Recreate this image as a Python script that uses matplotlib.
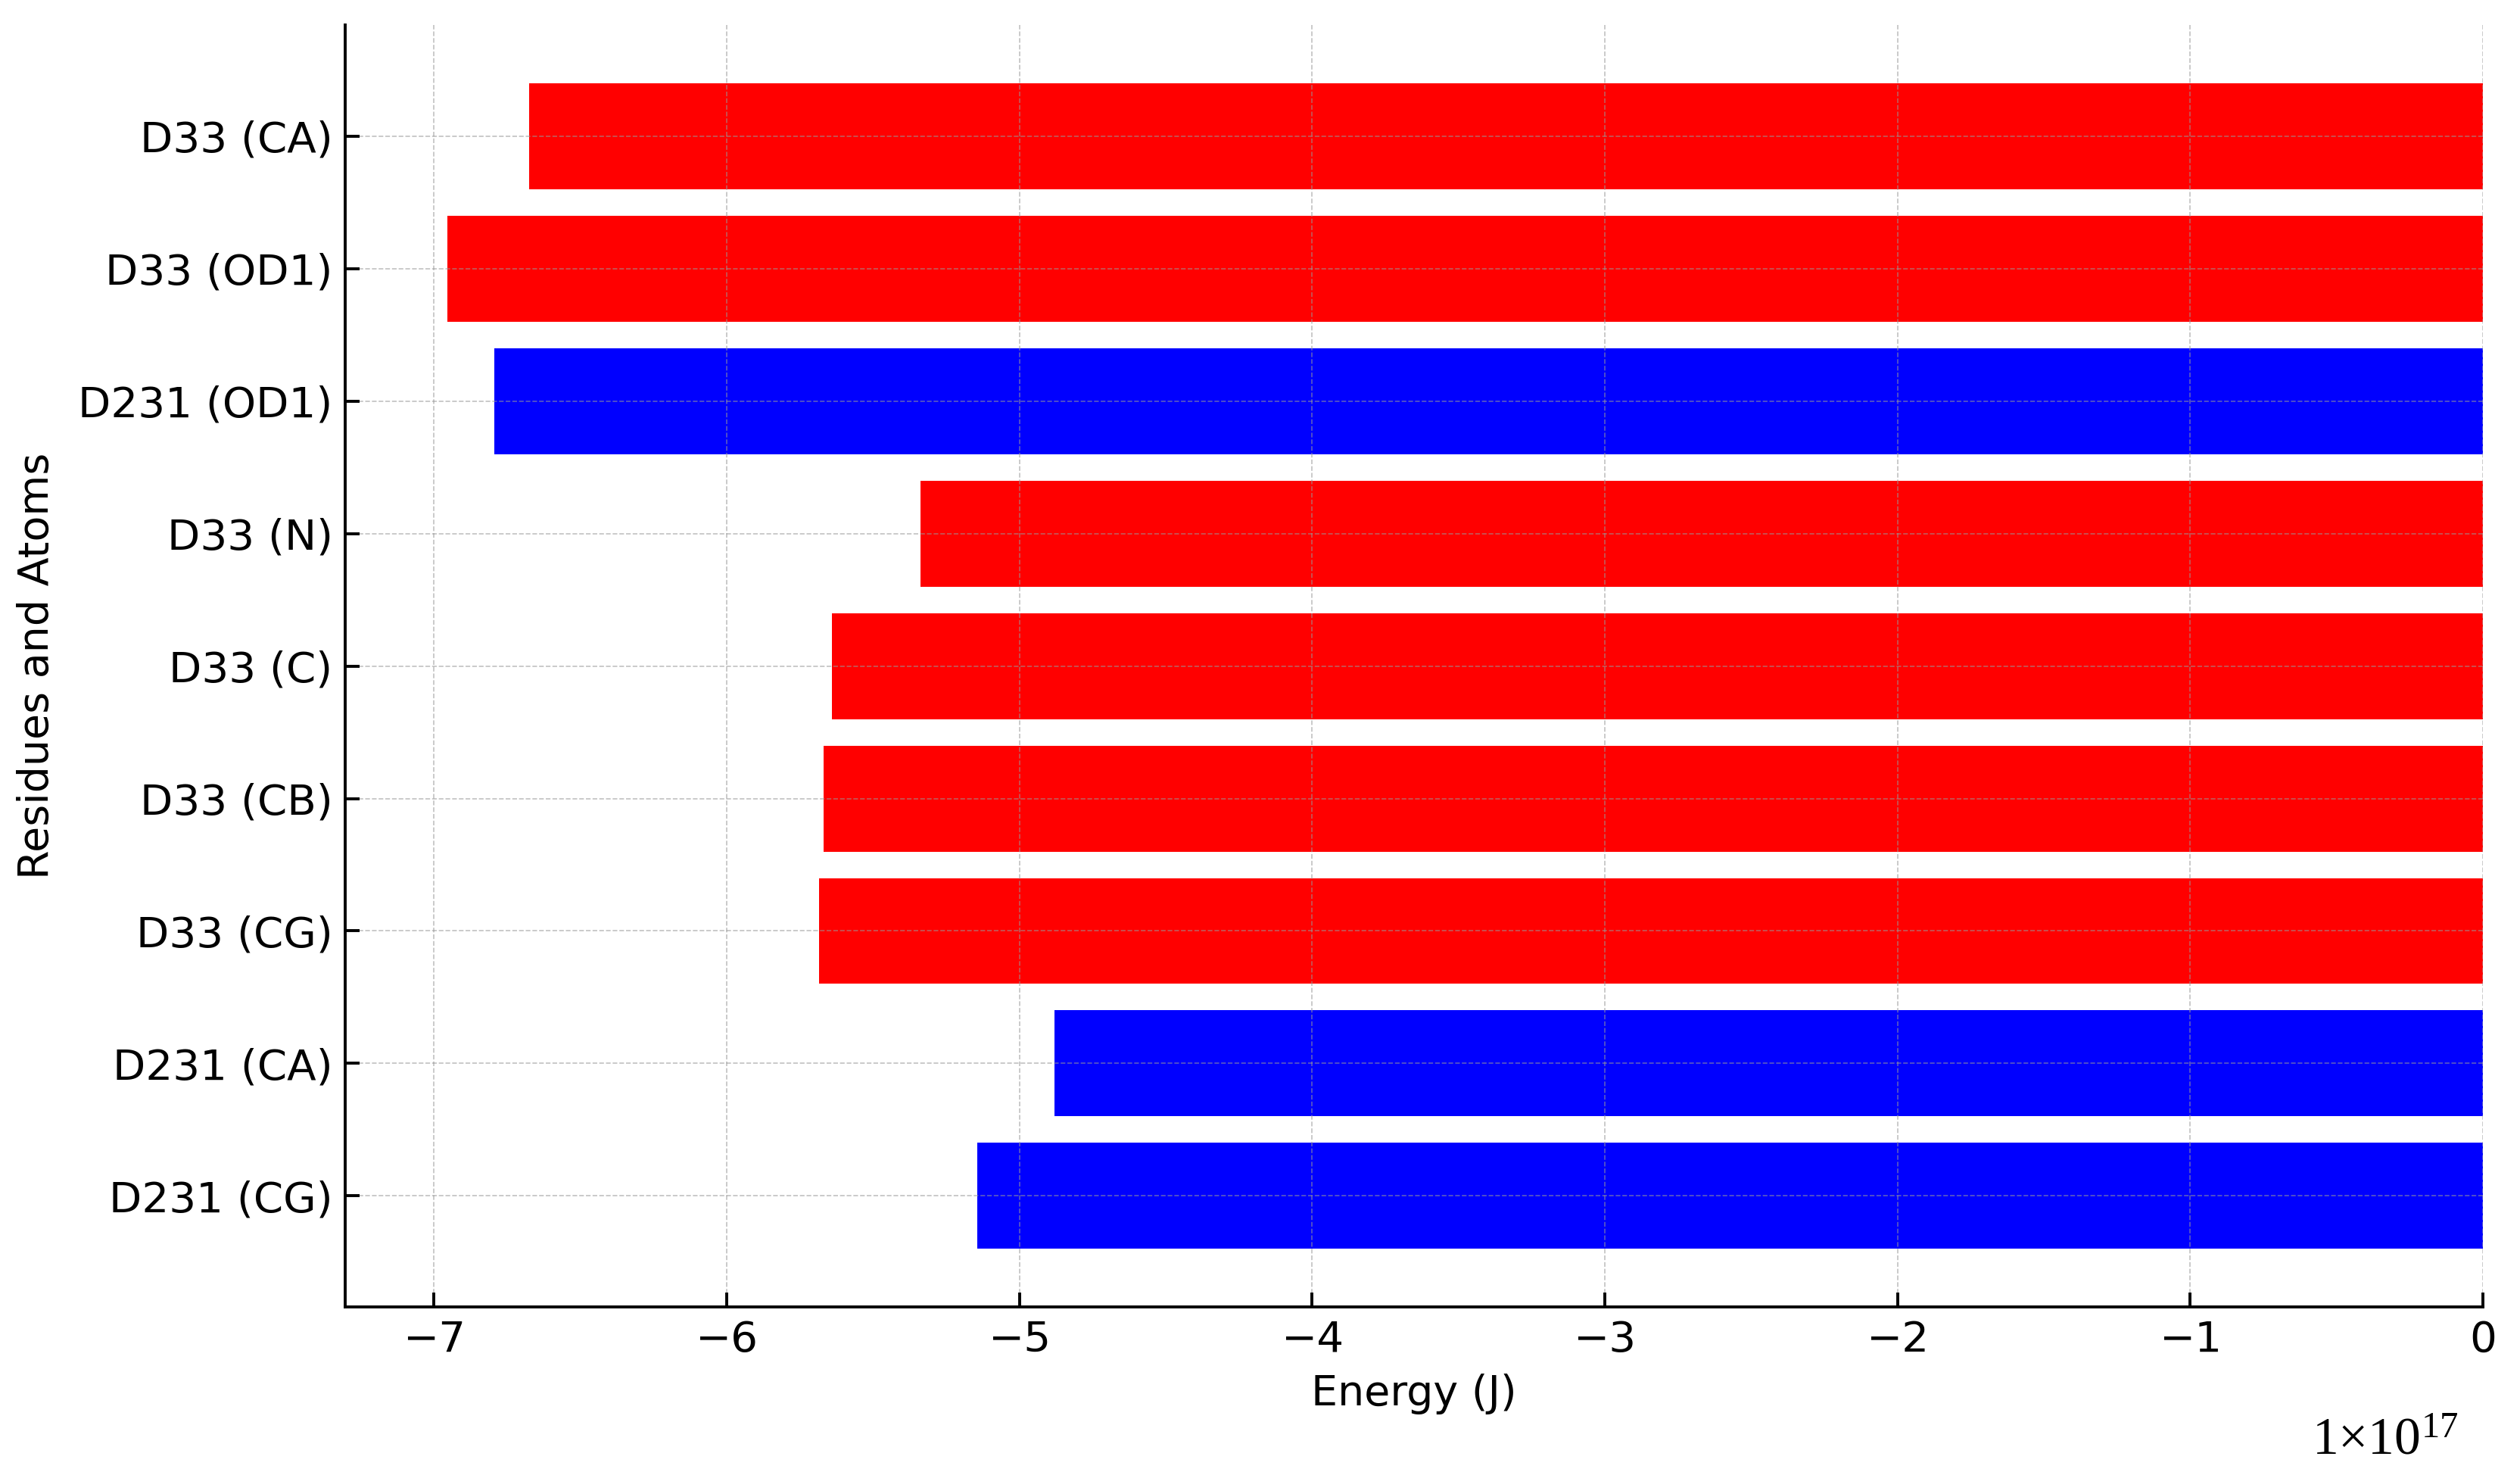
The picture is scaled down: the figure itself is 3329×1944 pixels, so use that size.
import numpy as np
from matplotlib import pyplot as plt

# datos (energia en unidades de 1e17)
labels = ["D33 (CA)", "D33 (OD1)", "D231 (OD1)", "D33 (N)", "D33 (C)",
          "D33 (CB)", "D33 (CG)", "D231 (CA)", "D231 (CG)"]
energy = [-6.676, -6.955, -6.793, -5.338, -5.640, -5.670, -5.685, -4.879, -5.143]
colors = ["red", "red", "blue", "red", "red", "red", "red", "blue", "blue"]

plt.rcParams['font.family'] = 'DejaVu Sans'
plt.rcParams['mathtext.fontset'] = 'custom'
plt.rcParams['mathtext.rm'] = 'Liberation Serif'

fig = plt.figure(figsize=(16.65, 9.72), dpi=200)
ax = fig.add_axes([0.137, 0.112, 0.848, 0.871])

y = np.arange(len(labels))
ax.barh(y, energy, color=colors, height=0.8)
ax.set_yticks(y)
ax.set_yticklabels(labels)
ax.invert_yaxis()

ax.grid(True, linestyle='--', linewidth=0.6, color='0.6', alpha=0.6)
ax.spines['top'].set_visible(False)
ax.spines['right'].set_visible(False)
for s in ['left', 'bottom']:
    ax.spines[s].set_linewidth(1.4)
ax.tick_params(direction='in', length=7, width=1.4, labelsize=20.3, pad=6)

ax.set_xlabel("Energy (J)", fontsize=20, labelpad=6)
ax.set_ylabel("Residues and Atoms", fontsize=20, labelpad=10)

fig.text(0.946, 0.0123, r'$\mathrm{1{\times}10^{17}}$', fontsize=25,
         ha='center', va='baseline')

fig.savefig("out.png", dpi=200)
